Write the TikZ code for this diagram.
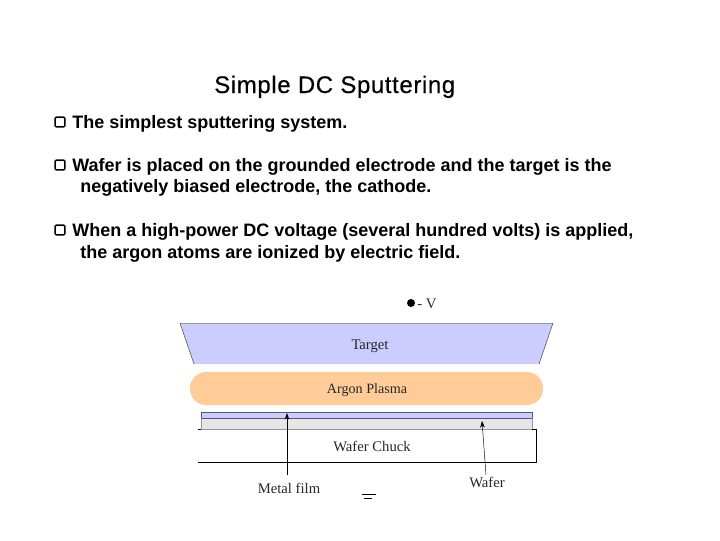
\documentclass[tikz,border=0pt]{standalone}
\usepackage{fontspec}
\setmainfont{Liberation Sans}
\newfontfamily\seriffam{Liberation Serif}
\usetikzlibrary{arrows.meta}
\definecolor{targetc}{HTML}{CCCCFF}
\definecolor{plasmac}{HTML}{FFCC99}
\definecolor{waferc}{HTML}{E6E6E6}
\definecolor{edgec}{HTML}{999999}
\definecolor{filmedge}{HTML}{555577}
\tikzset{
  slidetext/.style={inner sep=0pt,anchor=base west,font=\fontsize{13.5pt}{16pt}\selectfont\bfseries},
  figtext/.style={inner sep=0pt,anchor=base,text=black!85,font=\seriffam\fontsize{11pt}{13pt}\selectfont},
  bulletbox/.style={draw=black,line width=1.1pt,rounded corners=1pt,minimum width=7.4pt,minimum height=7.4pt,inner sep=0pt},
  leader/.style={-{Stealth[length=5pt,width=3.5pt]},line width=0.5pt}
}
\begin{document}
\begin{tikzpicture}[x=0.75pt,y=-0.75pt]
\useasboundingbox (0,0) rectangle (720,540);
\node[inner sep=0pt,anchor=base west,font=\fontsize{18pt}{20pt}\selectfont,text=black] (title) at (214,93) {\addfontfeature{LetterSpace=2.5,FakeBold=0.4}Simple DC Sputtering};
\node[bulletbox] (b1) at (60,122) {};
\node[slidetext] (l1) at (72,128) {The simplest sputtering system.};
\node[bulletbox] (b2) at (60,165) {};
\node[slidetext] (l2a) at (72,171) {Wafer is placed on the grounded electrode and the target is the};
\node[slidetext] (l2b) at (80,192) {negatively biased electrode, the cathode.};
\node[bulletbox] (b3) at (60,230) {};
\node[slidetext] (l3a) at (72,236) {When a high-power DC voltage (several hundred volts) is applied,};
\node[slidetext] (l3b) at (80,258) {the argon atoms are ionized by electric field.};
% target
\fill[targetc] (180,323) -- (553,323) -- (539,364) -- (194,364) -- cycle;
\draw[edgec,line width=0.6pt] (180,323) -- (553,323);
\draw[black!70,line width=0.4pt] (180,323) -- (194,364) (553,323) -- (539,364);
\node[figtext] (target) at (370,349) {Target};
% plasma
\fill[plasmac,rounded corners=12pt] (190,372) rectangle (543,405);
\node[figtext,font=\seriffam\fontsize{10.6pt}{13pt}\selectfont] (plasma) at (367,393) {Argon Plasma};
% wafer & film
\fill[waferc] (201,418) rectangle (532,429);
\fill[targetc] (201,412) rectangle (532,418);
\draw[filmedge,line width=0.7pt] (201,418) -- (201,412) -- (532,412) -- (532,418) -- cycle;
\draw[edgec,line width=0.7pt] (201,418) -- (201,429) -- (532,429) -- (532,418);
% chuck
\draw[black,line width=0.75pt] (198,429) -- (201,429) (532,429) -- (536,429) -- (536,462) -- (198,462);
\node[figtext] (chuck) at (372,451) {Wafer Chuck};
% dot
\fill[black] (411,303) circle (4);
\node[figtext] (vlabel) at (427,308) {- V};
% labels and arrows
\node[figtext] (metal) at (289,493) {Metal film};
\node[figtext] (wafer) at (487,487) {Wafer};
\coordinate (filmtip) at (287,413);
\coordinate (wafertip) at (482,421);
\coordinate (metalfoot) at (287,475);
\coordinate (waferfoot) at (486,475);
\draw[leader] (metalfoot) -- (filmtip);
\draw[leader,line width=0.35pt] (waferfoot) -- (wafertip);
% ground
\coordinate (g1a) at (362,494); \coordinate (g1b) at (376,494);
\coordinate (g2a) at (364,498); \coordinate (g2b) at (372,498);
\draw[line width=0.6pt] (g1a) -- (g1b);
\draw[line width=0.5pt] (g2a) -- (g2b);
\end{tikzpicture}
\end{document}
